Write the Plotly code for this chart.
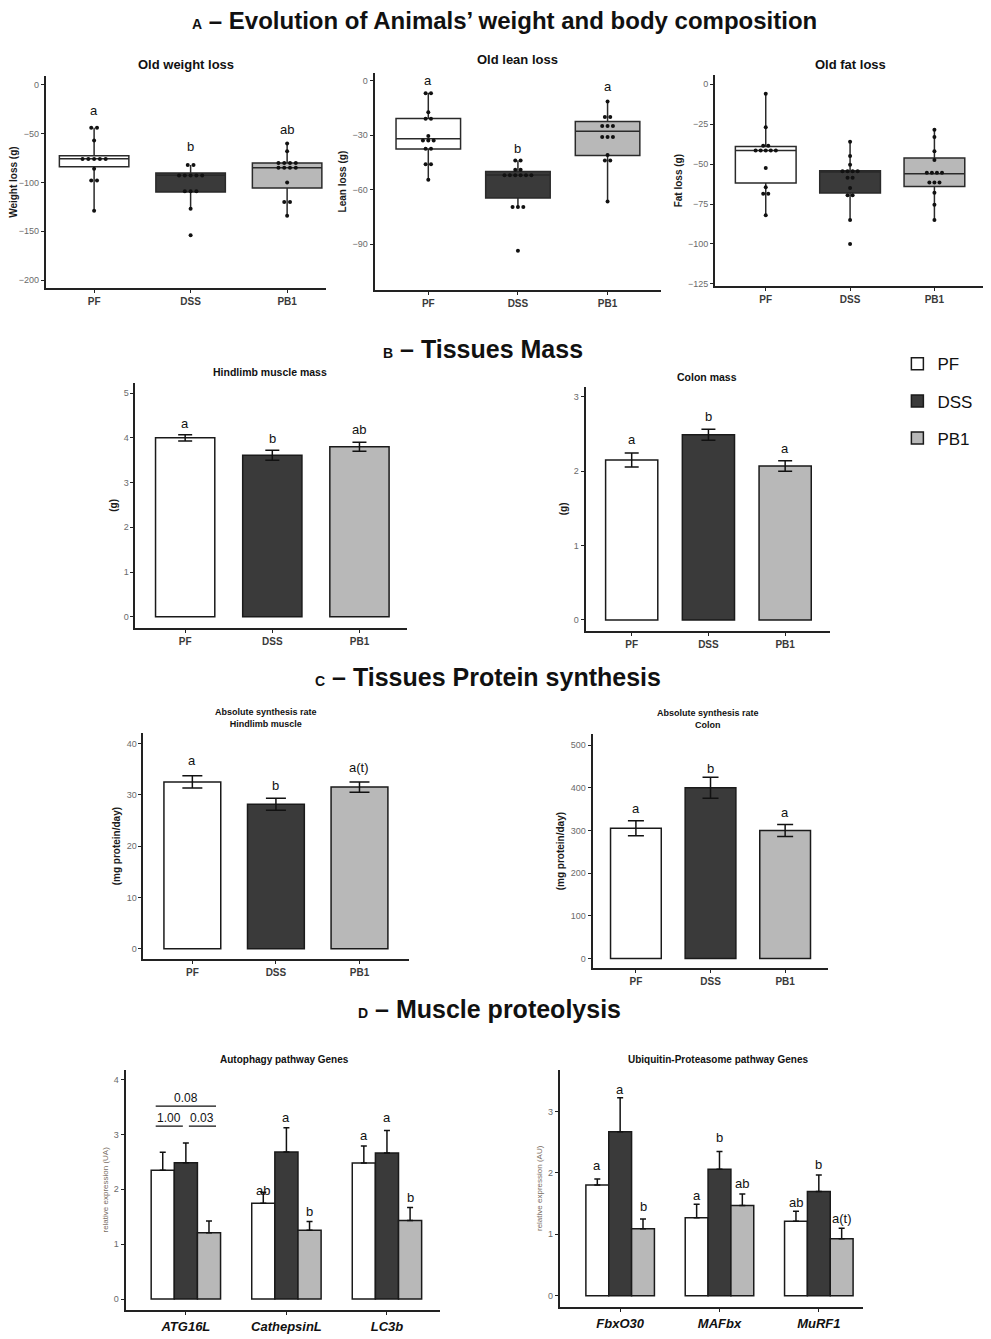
import plotly.graph_objects as go

# the page body keeps its default 8px margin, so work in page pixels and shift
PAGE_W, PAGE_H = 991, 1339
PAD = 8
W, H = PAGE_W - PAD, PAGE_H - PAD
FONT = "Liberation Sans, Arial, sans-serif"

GROUPS = ["PF", "DSS", "PB1"]
FILLS = ["#ffffff", "#3a3a3a", "#b8b8b8"]
EDGE = "#1a1a1a"

# ---- A: weight / body composition (individual animals + box stats) ----
WEIGHT_PF = [-44, -44, -57, -76, -76, -76, -76, -76, -86, -98, -98, -129]
WEIGHT_DSS = [-82, -82, -93, -93, -93, -93, -93, -109, -109, -109, -127, -154]
WEIGHT_PB1 = [-60, -68, -80, -80, -80, -80, -85, -85, -85, -85, -100, -120, -120, -134]
WEIGHT_Q1 = [-84, -109.7, -105.6]
WEIGHT_MED = [-75.6, -92.5, -85]
WEIGHT_Q3 = [-72.6, -90.3, -80]
WEIGHT_LO = [-129, -127, -134]
WEIGHT_HI = [-44, -82, -60]
WEIGHT_LETTERS = ["a", "b", "ab"]
WEIGHT_LETTER_Y = [-26, -63, -46]

LEAN_PF = [-7, -7, -17.5, -21, -21, -30.5, -33, -33, -33, -37.5, -37.5, -46, -46, -54.5]
LEAN_DSS = [-44, -44, -49, -49, -52, -52, -52, -52, -52, -52, -69.5, -69.5, -69.5, -93.5]
LEAN_PB1 = [-11.5, -20, -20, -25, -25, -25, -31, -31, -31, -41, -44, -44, -66.5]
LEAN_Q1 = [-37.6, -64.5, -41.2]
LEAN_MED = [-32, -51.9, -27.9]
LEAN_Q3 = [-20.9, -50, -22.5]
LEAN_LO = [-54.5, -69.5, -66.5]
LEAN_HI = [-6.8, -44, -11.5]
LEAN_LETTERS = ["a", "b", "a"]
LEAN_LETTER_Y = [0, -37.6, -3.5]

FAT_PF = [-6, -27, -38.5, -38.5, -41.5, -41.5, -41.5, -41.5, -41.5, -52.5, -64.5, -68.5, -68.5, -82]
FAT_DSS = [-36, -45, -50.5, -54.5, -54.5, -54.5, -54.5, -58.5, -58.5, -65, -69.5, -69.5, -85, -100]
FAT_PB1 = [-28.5, -33, -42, -47.5, -55.5, -55.5, -55.5, -55.5, -61.5, -61.5, -61.5, -68, -75.5, -85]
FAT_Q1 = [-61.9, -68.1, -64]
FAT_MED = [-41.5, -55, -56]
FAT_Q3 = [-39, -54.2, -46.25]
FAT_LO = [-82, -85, -85]
FAT_HI = [-6, -36, -28.5]

# ---- B: tissue mass ----
HINDLIMB_MASS = [4.0, 3.61, 3.80]
HINDLIMB_MASS_SE = [0.07, 0.11, 0.10]
HINDLIMB_MASS_LETTERS = ["a", "b", "ab"]
HINDLIMB_MASS_LETTER_Y = [4.32, 3.98, 4.18]

COLON_MASS = [2.15, 2.49, 2.07]
COLON_MASS_SE = [0.095, 0.075, 0.07]
COLON_MASS_LETTERS = ["a", "b", "a"]
COLON_MASS_LETTER_Y = [2.42, 2.73, 2.30]

# ---- C: absolute synthesis rate ----
ASR_HINDLIMB = [32.5, 28.15, 31.5]
ASR_HINDLIMB_SE = [1.2, 1.15, 1.0]
ASR_HINDLIMB_LETTERS = ["a", "b", "a(t)"]
ASR_HINDLIMB_LETTER_Y = [36.6, 31.8, 35.4]

ASR_COLON = [305, 400, 300]
ASR_COLON_SE = [17.5, 24.5, 14]
ASR_COLON_LETTERS = ["a", "b", "a"]
ASR_COLON_LETTER_Y = [352, 445, 342]

# ---- D: proteolysis genes ----
AUTO_GENES = ["ATG16L", "CathepsinL", "LC3b"]
AUTO_PF = [2.345, 1.745, 2.48]
AUTO_DSS = [2.485, 2.68, 2.66]
AUTO_PB1 = [1.21, 1.255, 1.43]
AUTO_PF_SE = [0.33, 0.20, 0.31]
AUTO_DSS_SE = [0.36, 0.44, 0.41]
AUTO_PB1_SE = [0.21, 0.16, 0.24]
AUTO_LETTERS = [["", "", ""], ["ab", "a", "b"], ["a", "a", "b"]]
AUTO_LETTER_Y = [[0, 0, 0], [1.98, 3.30, 1.60], [2.98, 3.30, 1.85]]
ATG_PVALS = ["0.08", "1.00", "0.03"]

UBIQ_GENES = ["FbxO30", "MAFbx", "MuRF1"]
UBIQ_PF = [1.80, 1.27, 1.213]
UBIQ_DSS = [2.67, 2.057, 1.695]
UBIQ_PB1 = [1.088, 1.467, 0.926]
UBIQ_PF_SE = [0.10, 0.22, 0.16]
UBIQ_DSS_SE = [0.55, 0.29, 0.27]
UBIQ_PB1_SE = [0.16, 0.19, 0.17]
UBIQ_LETTERS = [["a", "a", "b"], ["a", "b", "ab"], ["ab", "b", "a(t)"]]
UBIQ_LETTER_Y = [[2.12, 3.35, 1.45], [1.63, 2.58, 1.82], [1.51, 2.14, 1.25]]


def px_x(p):
    return (p - PAD) / W


def px_y(p):
    return 1 - (p - PAD) / H


def xdom(a, b):
    return [px_x(a), px_x(b)]


def ydom(top, bottom):
    return [px_y(bottom), px_y(top)]


def dot_offsets(values, step=0.06):
    counts, seen, out = {}, {}, []
    for v in values:
        counts[v] = counts.get(v, 0) + 1
    for v in values:
        k = counts[v]
        i = seen.get(v, 0)
        seen[v] = i + 1
        out.append((i - (k - 1) / 2) * step)
    return out


fig = go.Figure()
annotations = []
shapes = []
layout_axes = {}


def setup_axes(n, xd, yd, xr, yr, ytick, ytitle, xlabels, xfont=None, yfont=None):
    xs = "xaxis" if n == 1 else f"xaxis{n}"
    ys = "yaxis" if n == 1 else f"yaxis{n}"
    anchor_x = "x" if n == 1 else f"x{n}"
    anchor_y = "y" if n == 1 else f"y{n}"
    common = dict(showline=True, linecolor="#222222", linewidth=2, ticks="outside",
                  ticklen=3, tickcolor="#222222", showgrid=False, zeroline=False)
    layout_axes[xs] = dict(common, domain=xd, range=xr, anchor=anchor_y,
                           tickvals=[0, 1, 2], ticktext=xlabels,
                           tickfont=xfont or dict(family=FONT, size=10, color="#3a3a3a", weight="bold"))
    layout_axes[ys] = dict(common, domain=yd, range=yr, anchor=anchor_x,
                           tickvals=ytick, tickfont=dict(family=FONT, size=9, color="#6a6a6a"),
                           title=dict(text=ytitle, standoff=4,
                                      font=yfont or dict(family=FONT, size=10, color="#1a1a1a", weight="bold")))
    return anchor_x, anchor_y


def add_title(text, x, y, size, weight="bold"):
    annotations.append(dict(text=text, x=px_x(x), y=px_y(y), xref="paper", yref="paper",
                            showarrow=False, xanchor="center", yanchor="middle",
                            font=dict(family=FONT, size=size, color="#111111", weight=weight)))


def add_heading(letter, text, x, y, size=25):
    annotations.append(dict(text=f"<b><span style='font-size:14px'>{letter}</span> – {text}</b>",
                            x=px_x(x), y=px_y(y), xref="paper", yref="paper", showarrow=False,
                            xanchor="center", yanchor="middle",
                            font=dict(family=FONT, size=size, color="#111111")))


def add_letters(ax, ay, xs, ys, texts, size=13):
    for x, y, t in zip(xs, ys, texts):
        if not t:
            continue
        annotations.append(dict(text=t, x=x, y=y, xref=ax, yref=ay, showarrow=False,
                                xanchor="center", yanchor="middle",
                                font=dict(family=FONT, size=size, color="#111111")))


def box_panel(n, xd, yd, xr, yr, ytick, ytitle, points, q1, med, q3, lo, hi, letters=None, letter_y=None):
    ax, ay = setup_axes(n, xd, yd, xr, yr, ytick, ytitle, GROUPS)
    for i, g in enumerate(GROUPS):
        fig.add_trace(go.Box(x=[i], q1=[q1[i]], median=[med[i]], q3=[q3[i]],
                             lowerfence=[lo[i]], upperfence=[hi[i]],
                             width=0.72, whiskerwidth=0, fillcolor=FILLS[i],
                             line=dict(color="#2a2a2a", width=1.5), boxpoints=False,
                             name=g, showlegend=False, xaxis=ax, yaxis=ay))
    for i, pts in enumerate(points):
        offs = dot_offsets(pts)
        fig.add_trace(go.Scatter(x=[i + o for o in offs], y=pts, mode="markers",
                                 marker=dict(color="#111111", size=4), showlegend=False,
                                 xaxis=ax, yaxis=ay))
    if letters:
        add_letters(ax, ay, [0, 1, 2], letter_y, letters)


def bar_panel(n, xd, yd, xr, yr, ytick, ytitle, vals, se, letters, letter_y, capw):
    ax, ay = setup_axes(n, xd, yd, xr, yr, ytick, ytitle, GROUPS)
    fig.add_trace(go.Bar(x=[0, 1, 2], y=vals, width=0.68,
                         marker=dict(color=FILLS, line=dict(color=EDGE, width=1.5)),
                         error_y=dict(type="data", array=se, color="#111111", thickness=1.5, width=capw),
                         showlegend=False, xaxis=ax, yaxis=ay))
    add_letters(ax, ay, [0, 1, 2], letter_y, letters)


def gene_panel(n, xd, yd, xr, yr, ytick, ytitle, genes, series, errs, letters, letter_y, legend):
    gene_font = dict(family=FONT, size=13, color="#111111", weight="bold", style="italic")
    ax, ay = setup_axes(n, xd, yd, xr, yr, ytick, ytitle, genes, xfont=gene_font,
                        yfont=dict(family=FONT, size=8, color="#7a6e64"))
    for i, g in enumerate(GROUPS):
        fig.add_trace(go.Bar(x=[0, 1, 2], y=series[i], name=g, legendgroup=g,
                             marker=dict(color=FILLS[i], line=dict(color=EDGE, width=1.5)),
                             error_y=dict(type="data", symmetric=False, array=errs[i],
                                          arrayminus=[0, 0, 0], color="#111111", thickness=1.5, width=3),
                             showlegend=legend, xaxis=ax, yaxis=ay))
    step = 0.69 / 3
    for gi in range(3):
        add_letters(ax, ay, [gi + (k - 1) * step for k in range(3)], letter_y[gi], letters[gi])
    return ax, ay


# ---------- headings ----------
add_heading("A", "Evolution of Animals’ weight and body composition", 503, 21, size=24)
add_heading("B", "Tissues Mass", 481, 350)
add_heading("C", "Tissues Protein synthesis", 486, 679)
add_heading("D", "Muscle proteolysis", 487, 1011)

# ---------- A ----------
box_panel(1, xdom(42, 323), ydom(76, 289), [-0.5, 2.4], [-208.5, 9.2], [0, -50, -100, -150, -200],
          "Weight loss (g)", [WEIGHT_PF, WEIGHT_DSS, WEIGHT_PB1],
          WEIGHT_Q1, WEIGHT_MED, WEIGHT_Q3, WEIGHT_LO, WEIGHT_HI, WEIGHT_LETTERS, WEIGHT_LETTER_Y)
add_title("Old weight loss", 183, 65, 13)

box_panel(2, xdom(372, 660), ydom(73, 291), [-0.6, 2.6], [-115.3, 4.2], [0, -30, -60, -90],
          "Lean loss (g)", [LEAN_PF, LEAN_DSS, LEAN_PB1],
          LEAN_Q1, LEAN_MED, LEAN_Q3, LEAN_LO, LEAN_HI, LEAN_LETTERS, LEAN_LETTER_Y)
add_title("Old lean loss", 516, 60, 13)

box_panel(3, xdom(714, 985), ydom(75, 287), [-0.6, 2.6], [-126.5, 5.8], [0, -25, -50, -75, -100, -125],
          "Fat loss (g)", [FAT_PF, FAT_DSS, FAT_PB1],
          FAT_Q1, FAT_MED, FAT_Q3, FAT_LO, FAT_HI)
add_title("Old fat loss", 850, 65, 13)

# ---------- B ----------
bar_panel(4, xdom(132, 405), ydom(384, 629), [-0.57, 2.55], [-0.24, 5.22], [0, 1, 2, 3, 4, 5], "(g)",
          HINDLIMB_MASS, HINDLIMB_MASS_SE, HINDLIMB_MASS_LETTERS, HINDLIMB_MASS_LETTER_Y, 7)
add_title("Hindlimb muscle mass", 267, 373, 10.5)

bar_panel(5, xdom(584, 829), ydom(388, 632), [-0.6, 2.58], [-0.144, 3.13], [0, 1, 2, 3], "(g)",
          COLON_MASS, COLON_MASS_SE, COLON_MASS_LETTERS, COLON_MASS_LETTER_Y, 7)
add_title("Colon mass", 706, 378, 10.5)

# ---------- C ----------
bar_panel(6, xdom(140, 407), ydom(735, 961), [-0.585, 2.597], [-1.95, 41.96], [0, 10, 20, 30, 40],
          "(mg protein/day)", ASR_HINDLIMB, ASR_HINDLIMB_SE, ASR_HINDLIMB_LETTERS, ASR_HINDLIMB_LETTER_Y, 10)
add_title("Absolute synthesis rate<br>Hindlimb muscle", 263, 720, 9)

bar_panel(7, xdom(591, 827), ydom(736, 970), [-0.58, 2.57], [-21.8, 525], [0, 100, 200, 300, 400, 500],
          "(mg protein/day)", ASR_COLON, ASR_COLON_SE, ASR_COLON_LETTERS, ASR_COLON_LETTER_Y, 8)
add_title("Absolute synthesis rate<br>Colon", 707, 721, 9)

# ---------- D ----------
ax8, ay8 = gene_panel(8, xdom(122, 438), ydom(1072, 1313), [-0.6, 2.53], [-0.2, 4.18], [0, 1, 2, 3, 4],
                      "relative expression (UA)", AUTO_GENES, [AUTO_PF, AUTO_DSS, AUTO_PB1],
                      [AUTO_PF_SE, AUTO_DSS_SE, AUTO_PB1_SE], AUTO_LETTERS, AUTO_LETTER_Y, True)
add_title("Autophagy pathway Genes", 282, 1062, 10)

# p-value brackets on ATG16L
for (x0, x1, ly, ty), txt in zip([(-0.30, 0.30, 3.515, 3.66), (-0.30, -0.03, 3.15, 3.30), (0.03, 0.30, 3.15, 3.30)],
                                 ATG_PVALS):
    shapes.append(dict(type="line", xref=ax8, yref=ay8, x0=x0, x1=x1, y0=ly, y1=ly,
                       line=dict(color="#111111", width=1.2)))
    annotations.append(dict(text=txt, x=(x0 + x1) / 2, y=ty, xref=ax8, yref=ay8, showarrow=False,
                            font=dict(family=FONT, size=12, color="#111111")))

gene_panel(9, xdom(558, 862), ydom(1072, 1310), [-0.608, 2.44], [-0.185, 3.68], [0, 1, 2, 3],
           "relative expression (AU)", UBIQ_GENES, [UBIQ_PF, UBIQ_DSS, UBIQ_PB1],
           [UBIQ_PF_SE, UBIQ_DSS_SE, UBIQ_PB1_SE], UBIQ_LETTERS, UBIQ_LETTER_Y, False)
add_title("Ubiquitin-Proteasome pathway Genes", 717, 1062, 10)

fig.update_layout(
    width=W, height=H,
    margin=dict(l=0, r=0, t=0, b=0),
    paper_bgcolor="white", plot_bgcolor="white",
    barmode="group", bargap=0.31, bargroupgap=0,
    showlegend=True,
    legend=dict(x=px_x(897), y=px_y(347), xanchor="left", yanchor="top",
                font=dict(family=FONT, size=17, color="#111111"),
                tracegroupgap=12, traceorder="grouped", bgcolor="rgba(0,0,0,0)"),
    annotations=annotations, shapes=shapes,
    **layout_axes,
)

fig.write_html("out.html")
